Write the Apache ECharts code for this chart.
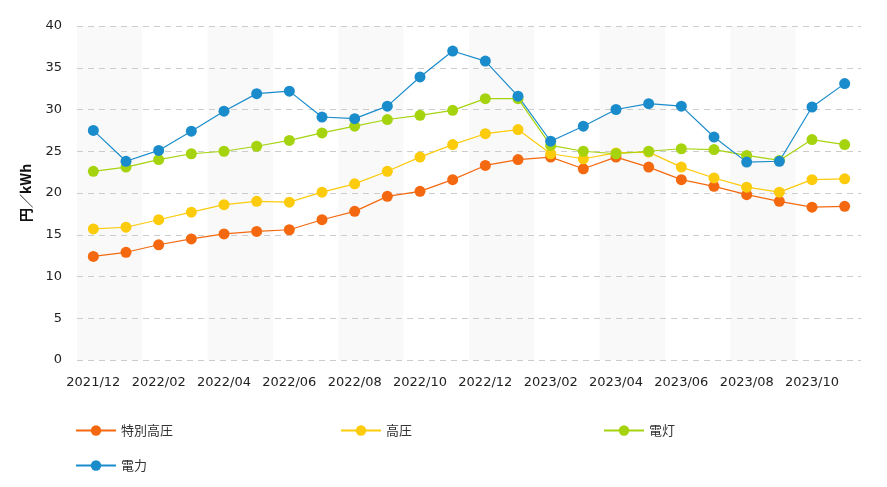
<!DOCTYPE html>
<html>
<head>
    <meta charset="utf-8">
    <title>電力単価</title>
    <script src="https://cdn.jsdelivr.net/npm/echarts@6/dist/echarts.min.js"></script>
    <style>
        html, body { margin: 0; padding: 0; background: #fff; }
    </style>
</head>
<body>
<div id="main" style="width: 887px;height:487px;"></div>

<script type="text/javascript">
    // 月（2021/12〜2023/11）
    var months = ['2021/12', '2022/01', '2022/02', '2022/03', '2022/04', '2022/05', '2022/06', '2022/07',
        '2022/08', '2022/09', '2022/10', '2022/11', '2022/12', '2023/01', '2023/02', '2023/03',
        '2023/04', '2023/05', '2023/06', '2023/07', '2023/08', '2023/09', '2023/10', '2023/11'];

    // 円/kWh
    var tokubetsuKoatsu = [12.4, 12.9, 13.8, 14.5, 15.1, 15.4, 15.6, 16.8, 17.8, 19.6, 20.2, 21.6,
        23.3, 24.0, 24.3, 22.9, 24.3, 23.1, 21.6, 20.8, 19.8, 19.0, 18.3, 18.4];
    var koatsu = [15.7, 15.9, 16.8, 17.7, 18.6, 19.0, 18.9, 20.1, 21.1, 22.6, 24.3, 25.8,
        27.1, 27.6, 24.7, 24.1, 24.8, 24.9, 23.1, 21.8, 20.7, 20.1, 21.6, 21.7];
    var dento = [22.6, 23.1, 24.0, 24.7, 25.0, 25.6, 26.3, 27.2, 28.0, 28.8, 29.3, 29.9,
        31.3, 31.3, 25.7, 25.0, 24.7, 25.0, 25.3, 25.2, 24.5, 23.9, 26.4, 25.8];
    var denryoku = [27.5, 23.8, 25.1, 27.4, 29.8, 31.9, 32.2, 29.1, 28.9, 30.4, 33.9, 37.0,
        35.8, 31.6, 26.2, 28.0, 30.0, 30.7, 30.4, 26.7, 23.7, 23.8, 30.3, 33.1];

    var seriesNames = ['特別高圧', '高圧', '電灯', '電力'];
    var seriesData = [tokubetsuKoatsu, koatsu, dento, denryoku];
    var colors = ['#f4690f', '#fccb0b', '#a5d40f', '#1a8ccb'];

    var Chart = echarts.init(document.getElementById('main'));

    // 凡例は3列に並べる
    var legendPos = [[70, 419], [335, 419], [598, 419], [70, 454]];
    var legends = seriesNames.map(function (name, i) {
        return {
            data: [name],
            left: legendPos[i][0],
            top: legendPos[i][1],
            itemWidth: 40,
            itemHeight: 13,
            itemGap: 5,
            textStyle: {
                fontFamily: 'Noto Sans CJK JP',
                fontSize: 13,
                color: '#333'
            }
        };
    });

    var option = {
        animation: false,
        color: colors,
        legend: legends,
        grid: {
            left: 77,
            right: 26,
            top: 26,
            bottom: 127
        },
        xAxis: {
            type: 'category',
            data: months,
            boundaryGap: true,
            z: 0,
            axisLine: {show: false},
            axisTick: {show: false},
            axisLabel: {
                interval: 1,
                margin: 16,
                fontFamily: 'DejaVu Sans',
                fontSize: 13,
                color: '#222'
            },
            splitArea: {
                show: true,
                interval: 1,
                areaStyle: {color: ['#f9f9f9', '#ffffff']}
            }
        },
        yAxis: {
            type: 'value',
            min: 0,
            max: 40,
            interval: 5,
            z: 1,
            name: '円／kWh',
            nameLocation: 'middle',
            nameGap: 44,
            nameTextStyle: {
                fontFamily: 'Noto Sans CJK JP',
                fontSize: 14,
                fontWeight: 'bold',
                color: '#111'
            },
            axisLine: {show: false},
            axisTick: {show: false},
            axisLabel: {
                margin: 15,
                fontFamily: 'DejaVu Sans',
                fontSize: 13,
                color: '#222'
            },
            splitLine: {
                lineStyle: {color: '#cccccc', type: [6, 5], width: 1}
            }
        },
        series: seriesNames.map(function (name, i) {
            return {
                name: name,
                type: 'line',
                data: seriesData[i],
                symbol: 'circle',
                symbolSize: 11,
                lineStyle: {width: 1.2},
                itemStyle: {color: colors[i]}
            };
        })
    };

    Chart.setOption(option);
</script>
</body>
</html>
